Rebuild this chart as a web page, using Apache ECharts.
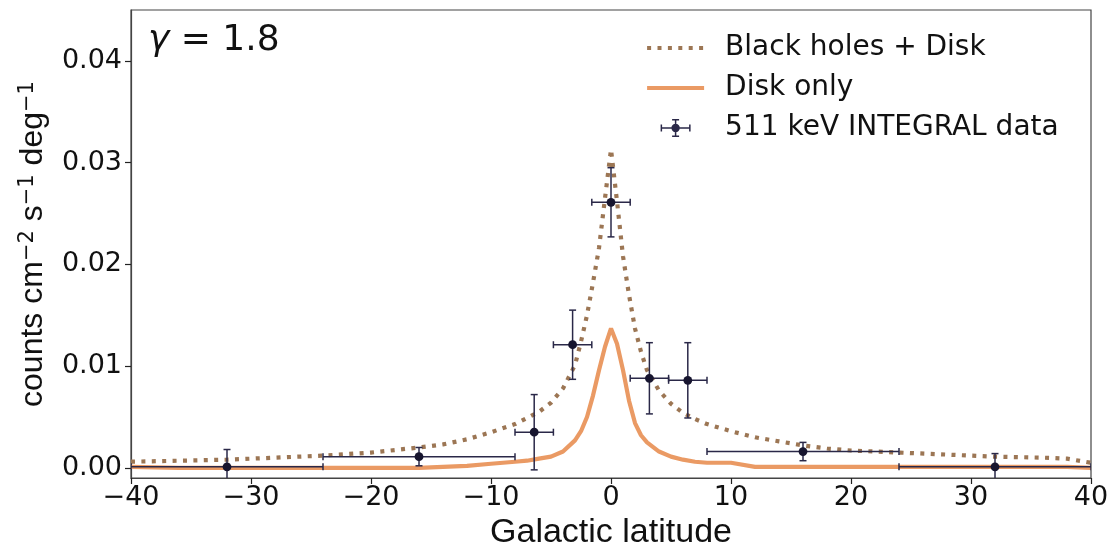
<!DOCTYPE html>
<html>
<head>
<meta charset="utf-8">
<script src="https://cdn.jsdelivr.net/npm/echarts@6/dist/echarts.min.js"></script>
<style>
html,body{margin:0;padding:0;background:#fff;}
#chart{width:1115px;height:545px;}
</style>
</head>
<body>
<div id="chart"></div>
<script>
// ---- Data ----
const curveLat = [-40,-36,-32,-28,-24,-20,-16,-14,-12,-10,-8,-7,-6,-5,-4,-3,-2.5,-2,-1.5,-1,-0.5,0,0.5,1,1.5,2,2.5,3,4,5,6,7,8,10,12,14,16,18,20,24,28,32,36,38,40];
const bhDisk   = [0.0006,0.0007,0.0008,0.0010,0.0012,0.0015,0.0020,0.0023,0.0028,0.0035,0.0043,0.0049,0.0055,0.0064,0.0078,0.0101,0.0124,0.0150,0.0182,0.0216,0.0265,0.0313,0.0262,0.0208,0.0170,0.0137,0.0114,0.0096,0.0076,0.0063,0.0054,0.0048,0.0043,0.0036,0.0030,0.0026,0.0022,0.0019,0.0017,0.0015,0.0013,0.0011,0.0010,0.0009,0.0005];
const diskOnly = [0.0001,0.0000,0.0000,0.0000,0.0000,0.0000,0.0000,0.0001,0.0002,0.0004,0.0006,0.0007,0.0009,0.0011,0.0016,0.0027,0.0036,0.0050,0.0071,0.0096,0.0119,0.0137,0.0122,0.0096,0.0066,0.0044,0.0032,0.0025,0.0016,0.0011,0.0008,0.0006,0.0005,0.0005,0.0001,0.0001,0.0001,0.0001,0.0001,0.0001,0.0001,0.0001,0.0001,0.0001,0.0000];

const dataLat     = [-32, -16, -6.4, -3.2, 0, 3.2, 6.4, 16, 32];
const dataLatErr  = [8, 8, 1.6, 1.6, 1.6, 1.6, 1.6, 8, 8];
const dataFlux    = [0.0001, 0.0011, 0.0035, 0.0121, 0.0261, 0.0088, 0.0086, 0.0016, 0.0001];
const dataFluxErr = [0.0017, 0.0009, 0.0037, 0.0034, 0.0034, 0.0035, 0.0037, 0.0009, 0.0013];

const xTicks = [-40,-30,-20,-10,0,10,20,30,40];
const yTicks = [0, 0.01, 0.02, 0.03, 0.04];

const seriesNames = ['Black holes + Disk', 'Disk only', '511 keV INTEGRAL data'];

// ---- Build ----
const bhData = curveLat.map((x,i)=>[x, bhDisk[i]]);
const diskData = curveLat.map((x,i)=>[x, diskOnly[i]]);
const errData = dataLat.map((x,i)=>[x, dataFlux[i], dataLatErr[i], dataFluxErr[i]]);

const BH_COLOR = '#9c7654';
const DISK_COLOR = '#ea9a64';
const ERR_COLOR = '#2a2848';
const DOT_COLOR = '#17152f';
const DOTTED = [4, 6.4];
const HIDDEN_SYMBOL = { color: 'rgba(0,0,0,0)', borderWidth: 0, borderColor: 'rgba(0,0,0,0)', opacity: 0 };
const errIcon = 'path://M0 8.25h30v1.5h-30z M14.25 0h1.5v18h-1.5z M0 5.5h1.5v7h-1.5z M28.5 5.5h1.5v7h-1.5z M11.5 0h7v1.5h-7z M11.5 16.5h7v1.5h-7z M19.2 9A4.2 4.2 0 1 1 10.8 9A4.2 4.2 0 1 1 19.2 9z';

const chart = echarts.init(document.getElementById('chart'), null, {renderer:'canvas'});
const option = {
  animation: false,
  backgroundColor: '#fff',
  title: {
    text: '{g|γ} = 1.8',
    left: 143, top: 18,
    textStyle: {
      fontFamily: 'DejaVu Sans', fontSize: 36, fontWeight: 'normal', color: '#111',
      rich: { g: { fontFamily: 'DejaVu Sans', fontStyle: 'italic', fontSize: 36, color: '#111' } }
    }
  },
  grid: {
    left: 131, right: 24, top: 10, bottom: 67,
    outerBoundsMode: 'none', containLabel: false,
    show: true, borderColor: '#444', borderWidth: 1.2, backgroundColor: 'transparent'
  },
  legend: {
    orient: 'vertical', left: 640, top: 28,
    itemWidth: 57, itemHeight: 18, itemGap: 10,
    textStyle: { fontFamily: 'DejaVu Sans', fontSize: 28, color: '#111', lineHeight: 30, padding: [0,0,0,16] },
    data: [
      { name: seriesNames[0], itemStyle: HIDDEN_SYMBOL,
        lineStyle: { color: BH_COLOR, width: 4.2, type: DOTTED, cap: 'butt', opacity: 1 } },
      { name: seriesNames[1], itemStyle: HIDDEN_SYMBOL,
        lineStyle: { color: DISK_COLOR, width: 4.2, type: 'solid', opacity: 1 } },
      { name: seriesNames[2], icon: errIcon, itemStyle: { color: ERR_COLOR } }
    ]
  },
  xAxis: {
    type: 'value', min: -40, max: 40, interval: 10,
    name: 'Galactic latitude', nameLocation: 'middle', nameGap: 29,
    nameTextStyle: { fontFamily: 'Liberation Sans', fontSize: 34, color: '#111' },
    axisLine: { show: true, onZero: false, lineStyle: { color: '#444', width: 1.2 } },
    axisTick: { show: true, inside: false, length: 6, lineStyle: { color: '#222', width: 1.2 } },
    axisLabel: {
      fontFamily: 'DejaVu Sans', fontSize: 27, color: '#111', margin: 6,
      formatter: v => v < 0 ? '\u2212' + Math.abs(v) : String(v)
    },
    splitLine: { show: false }
  },
  yAxis: {
    type: 'value', min: -0.001, max: 0.045,
    name: '{m|counts cm}{s|\u22122}{m| s}{s|\u22121}{m| deg}{s|\u22121}',
    nameLocation: 'middle', nameGap: 82, nameRotate: 90,
    nameTextStyle: {
      color: '#111',
      rich: {
        m: { fontFamily: 'Liberation Sans', fontSize: 32, color: '#111' },
        s: { fontFamily: 'DejaVu Sans', fontSize: 21, color: '#111', verticalAlign: 'top' }
      }
    },
    axisLine: { show: true, onZero: false, lineStyle: { color: '#444', width: 1.2 } },
    axisTick: { show: true, inside: false, length: 6, lineStyle: { color: '#222', width: 1.2 }, customValues: yTicks },
    axisLabel: {
      fontFamily: 'DejaVu Sans', fontSize: 27, color: '#111', margin: 9,
      customValues: yTicks,
      formatter: v => v.toFixed(2)
    },
    splitLine: { show: false }
  },
  series: [
    {
      name: seriesNames[0], type: 'line', data: bhData, showSymbol: false, symbol: 'none',
      lineStyle: { color: BH_COLOR, width: 4.2, type: DOTTED, cap: 'butt' },
      itemStyle: { color: BH_COLOR }, z: 3, clip: true
    },
    {
      name: seriesNames[1], type: 'line', data: diskData, showSymbol: false, symbol: 'none',
      lineStyle: { color: DISK_COLOR, width: 4.2, type: 'solid' },
      itemStyle: { color: DISK_COLOR }, z: 2, clip: true
    },
    {
      name: seriesNames[2], type: 'custom', data: errData, clip: true, z: 4,
      encode: { x: 0, y: 1 },
      itemStyle: { color: ERR_COLOR },
      renderItem: function (params, api) {
        const x = api.value(0), y = api.value(1), xe = api.value(2), ye = api.value(3);
        const c = api.coord([x, y]);
        const l = api.coord([x - xe, y]);
        const r = api.coord([x + xe, y]);
        const t = api.coord([x, y + ye]);
        const b = api.coord([x, y - ye]);
        const cap = 3.5;
        const ls = { stroke: ERR_COLOR, lineWidth: 1.5 };
        return {
          type: 'group',
          children: [
            { type: 'line', shape: { x1: l[0], y1: l[1], x2: r[0], y2: r[1] }, style: ls },
            { type: 'line', shape: { x1: t[0], y1: t[1], x2: b[0], y2: b[1] }, style: ls },
            { type: 'line', shape: { x1: l[0], y1: l[1] - cap, x2: l[0], y2: l[1] + cap }, style: ls },
            { type: 'line', shape: { x1: r[0], y1: r[1] - cap, x2: r[0], y2: r[1] + cap }, style: ls },
            { type: 'line', shape: { x1: t[0] - cap, y1: t[1], x2: t[0] + cap, y2: t[1] }, style: ls },
            { type: 'line', shape: { x1: b[0] - cap, y1: b[1], x2: b[0] + cap, y2: b[1] }, style: ls },
            { type: 'circle', shape: { cx: c[0], cy: c[1], r: 4.4 }, style: { fill: DOT_COLOR } }
          ]
        };
      }
    }
  ]
};
chart.setOption(option);
</script>
</body>
</html>
